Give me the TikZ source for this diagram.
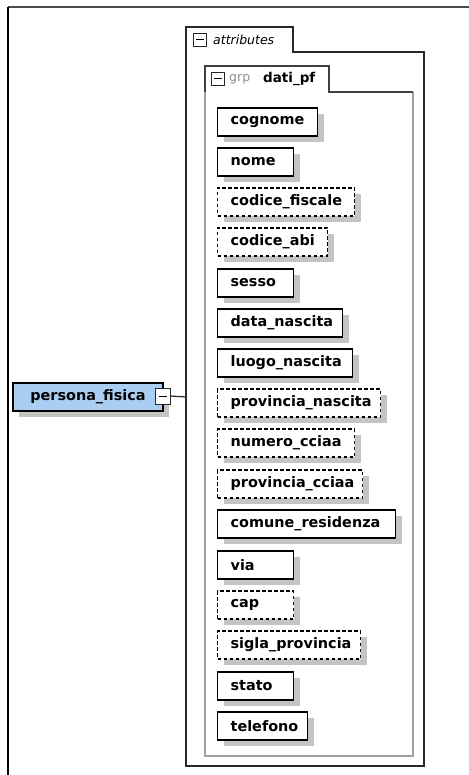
\documentclass[tikz,border=0pt]{standalone}
\usepackage{fontspec}
\usetikzlibrary{shadows}
\newfontfamily\diagfont{DejaVu Sans}
\definecolor{elemblue}{RGB}{170,205,242}
\definecolor{shadowgray}{RGB}{196,196,196}
\definecolor{framedark}{RGB}{40,40,40}
\definecolor{grpgray}{RGB}{160,160,160}
\tikzset{
  elem/.style={draw=black, line width=1.3pt, fill=white, anchor=west,
    inner xsep=13pt, inner ysep=0pt, minimum height=28pt, align=left,
    font=\diagfont\bfseries\fontsize{14.4}{16}\selectfont,
    drop shadow={shadow xshift=6pt, shadow yshift=-6pt, fill=shadowgray, opacity=1}},
  optional/.style={dash pattern=on 3.5pt off 2.5pt},
  required/.style={solid},
  minusbox/.style={draw=framedark, line width=1pt, fill=white, minimum width=13pt,
    minimum height=13pt, inner sep=0pt},
  tablabel/.style={anchor=west, inner sep=0pt},
}
\newcommand{\minussign}{\rule{8pt}{1pt}}
\begin{document}
\begin{tikzpicture}[x=1pt,y=-1pt]
\useasboundingbox (0,0) rectangle (468,775);
\fill[white] (0,0) rectangle (468,775);

% outer frame (top and left edges only)
\draw[line width=1.5pt, color=black!70] (8,7) -- (470,7);
\draw[line width=1.5pt, color=black] (8,7) -- (8,777);

% attributes container with its tab
\draw[line width=1.3pt, color=framedark]
  (186,766) -- (186,27) -- (293,27) -- (293,52) -- (424,52) -- (424,766) -- cycle;
\node[minusbox] (attrminus) at (200,40) {\minussign};
\node[tablabel, font=\diagfont\itshape\fontsize{12.5}{14}\selectfont] (attrlabel) at (213,40) {attributes};
\coordinate (attrleft) at (186,397);

% group dati_pf
\draw[line width=1.3pt, color=grpgray]
  (205,92) -- (205,756) -- (413,756) -- (413,92);
\draw[line width=1.2pt, color=black!75]
  (205,92) -- (205,66) -- (329,66) -- (329,92) -- (413,92);
\node[minusbox] (grpminus) at (218,79) {\minussign};
\node[tablabel, font=\diagfont\fontsize{12.5}{14}\selectfont, text=black!45] (grplabel) at (229,79) {grp};
\node[tablabel, font=\diagfont\bfseries\fontsize{13.5}{15}\selectfont] (grpname) at (263,79) {dati\_pf};

% root element
\node[elem, anchor=center, fill=elemblue, inner xsep=0pt, minimum width=150pt, align=center]
  (persona) at (88,397) {persona\_fisica};
\node[minusbox, minimum width=15pt, minimum height=16pt] (personaminus) at (162.5,396) {\minussign};
\draw[line width=1.2pt, color=framedark] (personaminus.east) -- (attrleft);

% child elements: name / text / right edge / centre y / style
\foreach \n/\t/\r/\y/\s in {
  cognome/cognome/317/122/required,
  nome/nome/293/162/required,
  codicefiscale/codice\_fiscale/354/202/optional,
  codiceabi/codice\_abi/327/242/optional,
  sesso/sesso/293/283/required,
  datanascita/data\_nascita/342/323/required,
  luogonascita/luogo\_nascita/352/363/required,
  provincianascita/provincia\_nascita/380/403/optional,
  numerocciaa/numero\_cciaa/354/443/optional,
  provinciacciaa/provincia\_cciaa/362/484/optional,
  comuneresidenza/comune\_residenza/395/524/required,
  via/via/293/565/required,
  cap/cap/293/605/optional,
  siglaprovincia/sigla\_provincia/360/645/optional,
  stato/stato/293/686/required,
  telefono/telefono/307/726/required}
{
  \pgfmathsetmacro{\tw}{\r-217-26}
  \node[elem, \s, text width=\tw pt] (\n) at (217,\y) {\t};
}
\end{tikzpicture}
\end{document}
